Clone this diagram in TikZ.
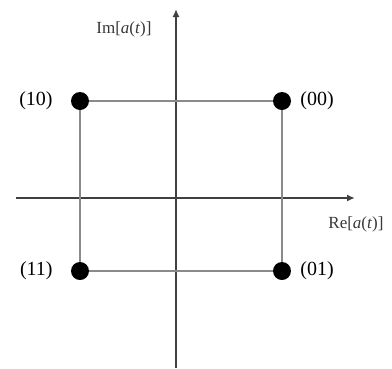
\documentclass[tikz,border=0pt]{standalone}
\usepackage{fontspec}
\setmainfont{Liberation Serif}
\usepackage{tikz}
\usetikzlibrary{arrows.meta,positioning}
\definecolor{axisgray}{HTML}{404040}
\definecolor{sidegray}{HTML}{8A8A8A}
\definecolor{labelgray}{HTML}{383838}

\begin{document}
\begin{tikzpicture}[
  x=1pt,y=-1pt,
  dot/.style={circle,fill=black,inner sep=0pt,minimum size=18pt},
  bits/.style={font=\fontsize{20}{24}\selectfont,inner sep=1pt},
  axis/.style={-{Latex[length=8pt,width=7pt]},draw=axisgray,line width=1.7pt},
  side/.style={draw=sidegray,line width=1.3pt},
  axlabel/.style={font=\fontsize{17}{20}\selectfont,text=labelgray,inner sep=1pt}
]
\useasboundingbox (0,0) rectangle (392,368);
\coordinate (xstart) at (16,198);
\coordinate (xend) at (355,198);
\coordinate (ystart) at (176,368);
\coordinate (yend) at (176,9);
\draw[axis] (xstart) -- (xend);
\draw[axis] (ystart) -- (yend);
\node[dot] (p10) at (80,101) {};
\node[dot] (p00) at (282,101) {};
\node[dot] (p11) at (80,271) {};
\node[dot] (p01) at (282,271) {};
\draw[side] (p10) -- (p00);
\draw[side] (p00) -- (p01);
\draw[side] (p01) -- (p11);
\draw[side] (p11) -- (p10);
\node[bits,left=17pt of p10] (b10) {(10)};
\node[bits,right=8pt of p00] (b00) {(00)};
\node[bits,left=17pt of p11] (b11) {(11)};
\node[bits,right=8pt of p01] (b01) {(01)};
\node[axlabel] (imlab) at (124,29) {Im[\textit{a}(\textit{t})]};
\node[axlabel] (relab) at (356,224) {Re[\textit{a}(\textit{t})]};
\end{tikzpicture}
\end{document}
